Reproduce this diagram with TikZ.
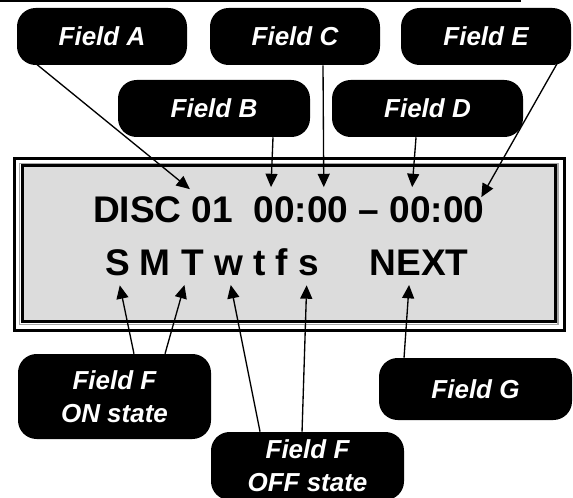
\documentclass[tikz,border=0pt]{standalone}
\usepackage{fontspec}
\setmainfont{Liberation Sans}
\usepackage{xcolor}
\usetikzlibrary{arrows.meta,positioning}

\definecolor{lcdgray}{RGB}{220,220,220}

\begin{document}
\begin{tikzpicture}[
  x=0.75pt, y=-0.75pt,
  tag/.style={fill=black, text=white, rounded corners=14pt, align=center,
              inner sep=0pt, minimum height=42.75pt,
              font=\fontsize{19.5}{24.5}\selectfont\bfseries\itshape},
  lcd/.style={inner sep=0pt, outer sep=0pt,
              font=\fontsize{27.8}{34}\selectfont\bfseries},
  arr/.style={-{Triangle[length=10pt,width=9pt]}, line width=1pt}
]
\useasboundingbox (0,0) rectangle (573,498);

% rule at the top
\draw[line width=1.5pt] (0,1) -- (521,1);

% display frame
\draw[line width=2.25pt] (14.7,158.3) rectangle (564,330);
\draw[gray!70, line width=0.9pt] (19.3,163.3) rectangle (558,324.3);
\draw[line width=2.25pt, fill=lcdgray] (22.5,166) rectangle (555.3,321.7);

% first line of the display
\node[lcd, anchor=base west] (disc) at (93,223) {DISC};
\node[lcd, base right=7.7pt of disc] (num) {01};
\node[lcd, base right=15.4pt of num] (hh1) {00};
\node[lcd, base right=0pt of hh1] (col1) {:};
\node[lcd, base right=0pt of col1] (mm1) {00};
\node[lcd, base right=7.7pt of mm1] (dash) {--};
\node[lcd, base right=7.7pt of dash] (hh2) {00};
\node[lcd, base right=0pt of hh2] (col2) {:};
\node[lcd, base right=0pt of col2] (mm2) {00};

% second line of the display
\node[lcd, anchor=base west] (dS) at (105,276) {S};
\node[lcd, base right=7.7pt of dS] (dM) {M};
\node[lcd, base right=7.7pt of dM] (dT) {T};
\node[lcd, base right=7.7pt of dT] (dw) {w};
\node[lcd, base right=7.7pt of dw] (dt) {t};
\node[lcd, base right=7.7pt of dt] (df) {f};
\node[lcd, base right=7.7pt of df] (ds) {s};
\node[lcd, base right=38pt of ds] (next) {NEXT};

% field tags
\node[tag, minimum width=127.5pt] (fa) at (102,36.5) {Field A};
\node[tag, minimum width=127.5pt] (fc) at (295,36.5) {Field C};
\node[tag, minimum width=127.5pt] (fe) at (486,36.5) {Field E};
\node[tag, minimum width=144pt] (fb) at (214,108.5) {Field B};
\node[tag, minimum width=143.25pt] (fd) at (427.5,108.5) {Field D};
\node[tag, minimum width=144.75pt, minimum height=63.75pt] (fon) at (114.5,396.5) {Field F\\ON state};
\node[tag, minimum width=144.75pt, minimum height=51pt] (foff) at (307.5,466) {Field F\\OFF state};
\node[tag, minimum width=144.75pt, minimum height=46.5pt] (fg) at (475.5,389) {Field G};

% leaders
\draw[arr] ([xshift=14pt,yshift=1.5pt]fa.south west) -- ([xshift=-1.5pt,yshift=6pt]num.north west);
\draw[arr] ([xshift=44.25pt]fb.south) -- ([xshift=-2.4pt,yshift=7.5pt]hh1.north);
\draw[arr] ([xshift=21pt]fc.south) -- ([xshift=-3pt,yshift=7.5pt]mm1.north);
\draw[arr] ([xshift=-8.6pt]fd.south) -- ([xshift=1.5pt,yshift=7.5pt]hh2.north);
\draw[arr] ([xshift=-10.5pt,yshift=1.5pt]fe.south east) -- ([xshift=-2.25pt]mm2.north east);

\draw[arr] ([xshift=14.6pt]fon.north) -- ([xshift=1.8pt,yshift=-6.75pt]dS.south);
\draw[arr] ([xshift=37.9pt]fon.north) -- ([xshift=-6pt,yshift=-6.75pt]dT.south);
\draw[arr] ([xshift=-35.6pt]foff.north) -- ([xshift=1.7pt,yshift=-6.75pt]dw.south);
\draw[arr] ([xshift=-4.1pt]foff.north) -- ([xshift=-1.5pt,yshift=-6.75pt]ds.south);
\draw[arr] ([xshift=-53.6pt]fg.north) -- ([xshift=-7.5pt,yshift=-6.75pt]next.south);
\end{tikzpicture}
\end{document}
